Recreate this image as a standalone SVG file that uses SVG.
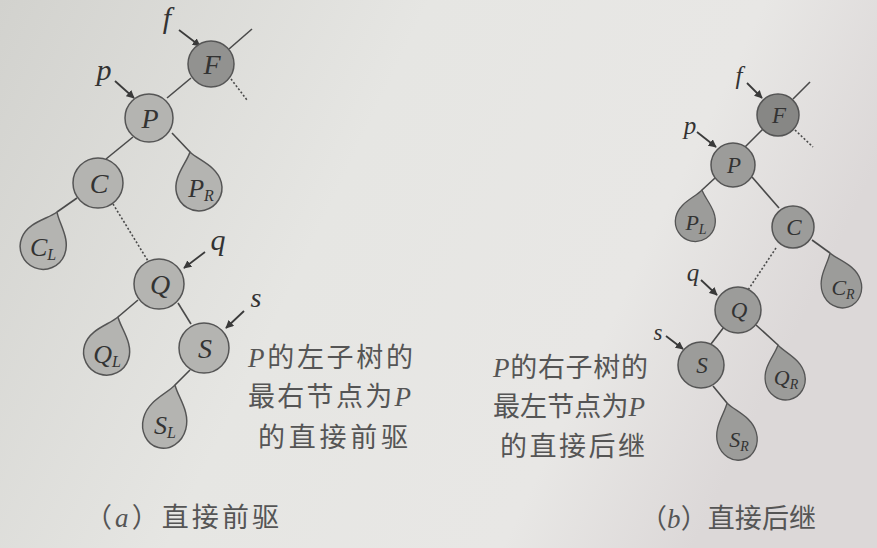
<svg xmlns="http://www.w3.org/2000/svg" width="877" height="548" viewBox="0 0 877 548">
<defs>
<linearGradient id="bg" x1="0" y1="0" x2="1" y2="0.3">
<stop offset="0" stop-color="#d2d2ce"/>
<stop offset="0.45" stop-color="#e6e6e3"/>
<stop offset="0.8" stop-color="#e8e7e5"/>
<stop offset="1" stop-color="#dcd8d8"/>
</linearGradient>
<marker id="ah" viewBox="0 0 10 10" refX="9" refY="5" markerWidth="4.5" markerHeight="4.5" orient="auto" markerUnits="strokeWidth">
<path d="M0,0 L10,5 L0,10 Z" fill="#3a3a3a"/>
</marker>
<path id="blob" d="M0,0 C6,10 23,20 23,37 A23,23 0 0 1 -23,37 C-23,20 -6,10 0,0 Z"/>
</defs>
<style>
.ln{stroke:#4a4a4a;stroke-width:1.6;fill:none}
.dt{stroke:#4a4a4a;stroke-width:1.6;fill:none;stroke-dasharray:2 2}
.ar{stroke:#3a3a3a;stroke-width:1.8;fill:none;marker-end:url(#ah)}
.na{fill:#b4b4b1;stroke:#555;stroke-width:1.5}
.fa{fill:#929290;stroke:#555;stroke-width:1.5}
.nb{fill:#9c9c9a;stroke:#555;stroke-width:1.5}
.fb{fill:#878785;stroke:#555;stroke-width:1.5}
.lt{font-family:"Liberation Serif",serif;font-style:italic;fill:#333;text-anchor:middle}
.cn{font-family:"Noto Sans CJK SC",sans-serif;fill:#555;font-size:27px}
.ps{font-family:"Liberation Serif",serif;font-style:italic}
</style>
<rect width="877" height="548" fill="url(#bg)"/>

<g id="connectors">
<!-- tree a -->
<line class="ln" x1="229" y1="49" x2="252" y2="29"/>
<line class="dt" x1="231" y1="79" x2="247" y2="100"/>
<line class="ln" x1="191" y1="78" x2="167" y2="98"/>
<line class="ln" x1="133" y1="137" x2="106" y2="159"/>
<line class="ln" x1="172" y1="133" x2="190" y2="152"/>
<line class="ln" x1="77" y1="198" x2="57" y2="212"/>
<line class="dt" x1="113" y1="204" x2="148" y2="261"/>
<line class="ln" x1="138" y1="300" x2="118" y2="317"/>
<line class="ln" x1="178" y1="303" x2="191" y2="324"/>
<line class="ln" x1="190" y1="370" x2="175" y2="385"/>
<line class="ar" x1="179" y1="30" x2="200" y2="46"/>
<line class="ar" x1="115" y1="81" x2="134" y2="98"/>
<line class="ar" x1="205" y1="252" x2="184" y2="268"/>
<line class="ar" x1="244" y1="311" x2="226" y2="328"/>
<!-- tree b -->
<line class="ln" x1="793" y1="99" x2="810" y2="82"/>
<line class="dt" x1="795" y1="130" x2="813" y2="147"/>
<line class="ln" x1="763" y1="129" x2="744" y2="148"/>
<line class="ln" x1="752" y1="177" x2="779" y2="208"/>
<line class="ln" x1="715" y1="178" x2="702" y2="190"/>
<line class="ln" x1="812" y1="240" x2="830" y2="253"/>
<line class="dt" x1="776" y1="248" x2="748" y2="290"/>
<line class="ln" x1="724" y1="327" x2="711" y2="344"/>
<line class="ln" x1="756" y1="325" x2="778" y2="345"/>
<line class="ln" x1="713" y1="386" x2="727" y2="403"/>
<line class="ar" x1="747" y1="83" x2="762" y2="98"/>
<line class="ar" x1="697" y1="132" x2="716" y2="147"/>
<line class="ar" x1="701" y1="280" x2="717" y2="295"/>
<line class="ar" x1="666" y1="336" x2="683" y2="349"/>
</g>

<!-- pointer labels -->
<g id="labels">
<text class="lt" x="167" y="28" font-size="30">f</text>
<text class="lt" x="104" y="80" font-size="30">p</text>
<text class="lt" x="218" y="250" font-size="30">q</text>
<text class="lt" x="256" y="307" font-size="28">s</text>
<text class="lt" x="739" y="84" font-size="25">f</text>
<text class="lt" x="690" y="134" font-size="25">p</text>
<text class="lt" x="693" y="281" font-size="25">q</text>
<text class="lt" x="658" y="340" font-size="23">s</text>
</g>

<!-- tree a nodes -->
<g id="aF"><circle class="fa" cx="211" cy="64" r="23"/><text class="lt" x="212" y="74" font-size="28">F</text></g>
<g id="aP"><circle class="na" cx="149" cy="118" r="24"/><text class="lt" x="150" y="128" font-size="28">P</text></g>
<g id="aC"><circle class="na" cx="98" cy="183" r="25"/><text class="lt" x="99" y="193" font-size="28">C</text></g>
<g id="aQ"><circle class="na" cx="159" cy="284" r="25"/><text class="lt" x="160" y="294" font-size="28">Q</text></g>
<g id="aS"><circle class="na" cx="204" cy="348" r="25"/><text class="lt" x="205" y="358" font-size="28">S</text></g>
<g id="aPR"><use href="#blob" class="na" transform="translate(190,152) rotate(-14)"/><text class="lt" x="201" y="197" font-size="26">P<tspan font-size="16" dy="4">R</tspan></text></g>
<g id="aCL"><use href="#blob" class="na" transform="translate(57,212) rotate(22)"/><text class="lt" x="43" y="256" font-size="26">C<tspan font-size="16" dy="4">L</tspan></text></g>
<g id="aQL"><use href="#blob" class="na" transform="translate(118,317) rotate(18)"/><text class="lt" x="107" y="363" font-size="26">Q<tspan font-size="16" dy="4">L</tspan></text></g>
<g id="aSL"><use href="#blob" class="na" transform="translate(175,385) rotate(15) scale(0.95,1.08)"/><text class="lt" x="165" y="434" font-size="26">S<tspan font-size="16" dy="4">L</tspan></text></g>

<!-- tree b nodes -->
<g id="bF"><circle class="fb" cx="778" cy="115" r="21"/><text class="lt" x="779" y="123" font-size="23">F</text></g>
<g id="bP"><circle class="nb" cx="733" cy="165" r="22"/><text class="lt" x="734" y="173" font-size="23">P</text></g>
<g id="bC"><circle class="nb" cx="793" cy="227" r="21"/><text class="lt" x="794" y="235" font-size="23">C</text></g>
<g id="bQ"><circle class="nb" cx="738" cy="310" r="23"/><text class="lt" x="739" y="318" font-size="23">Q</text></g>
<g id="bS"><circle class="nb" cx="701" cy="365" r="23"/><text class="lt" x="702" y="373" font-size="23">S</text></g>
<g id="bPL"><use href="#blob" class="nb" transform="translate(702,190) rotate(12) scale(0.87)"/><text class="lt" x="696" y="230" font-size="22">P<tspan font-size="14" dy="4">L</tspan></text></g>
<g id="bCR"><use href="#blob" class="nb" transform="translate(830,253) rotate(-19) scale(0.87,0.95)"/><text class="lt" x="843" y="295" font-size="22">C<tspan font-size="14" dy="4">R</tspan></text></g>
<g id="bQR"><use href="#blob" class="nb" transform="translate(778,345) rotate(-12) scale(0.87,0.93)"/><text class="lt" x="786" y="385" font-size="22">Q<tspan font-size="14" dy="4">R</tspan></text></g>
<g id="bSR"><use href="#blob" class="nb" transform="translate(727,403) rotate(-16) scale(0.87,0.98)"/><text class="lt" x="739" y="447" font-size="22">S<tspan font-size="14" dy="4">R</tspan></text></g>

<!-- descriptions -->
<g id="descA">
<text class="cn" x="248" y="367" textLength="165" lengthAdjust="spacing"><tspan class="ps">P</tspan>的左子树的</text>
<text class="cn" x="248" y="406" textLength="163" lengthAdjust="spacing">最右节点为<tspan class="ps">P</tspan></text>
<text class="cn" x="258" y="447" textLength="150" lengthAdjust="spacing">的直接前驱</text>
</g>
<g id="descB">
<text class="cn" x="493" y="377" textLength="155" lengthAdjust="spacing"><tspan class="ps">P</tspan>的右子树的</text>
<text class="cn" x="493" y="416" textLength="152" lengthAdjust="spacing">最左节点为<tspan class="ps">P</tspan></text>
<text class="cn" x="500" y="456" textLength="145" lengthAdjust="spacing">的直接后继</text>
</g>
<g id="captions">
<text class="cn" x="85" y="527" textLength="194" lengthAdjust="spacing">（<tspan class="ps">a</tspan>）直接前驱</text>
<text class="cn" x="640" y="528" textLength="176" lengthAdjust="spacing">（<tspan class="ps">b</tspan>）直接后继</text>
</g>
</svg>
